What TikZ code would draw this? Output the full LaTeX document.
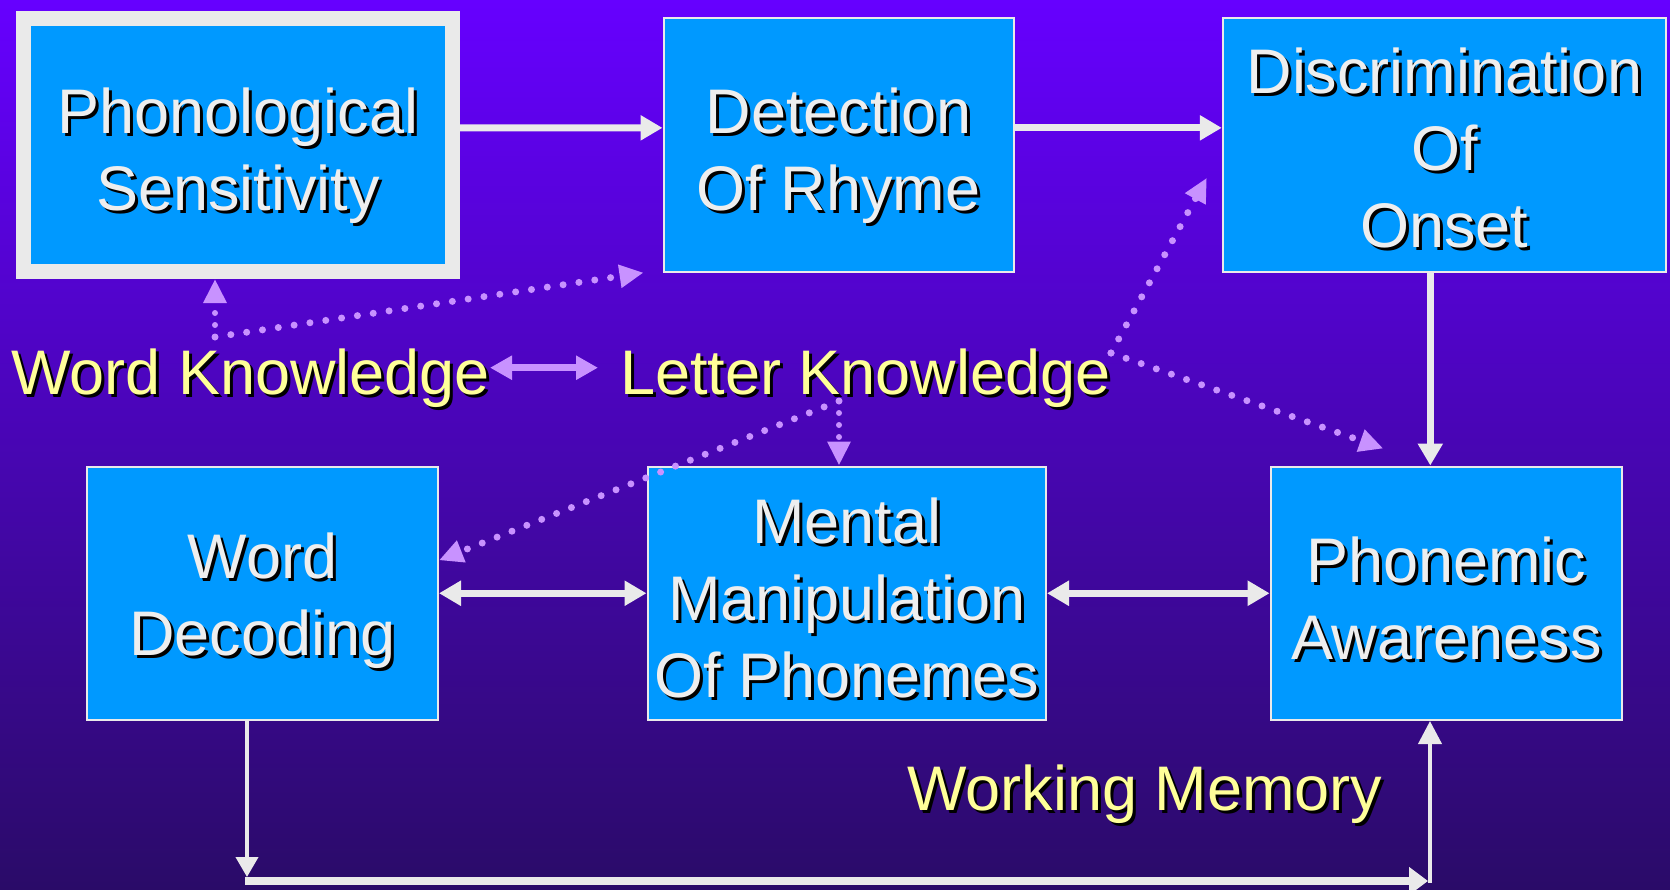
\documentclass[tikz,border=0pt]{standalone}
\usepackage{fontspec}
\setmainfont{Liberation Sans}
\usepackage{xcolor}
\usetikzlibrary{arrows.meta}
\definecolor{bg-top}{RGB}{102,0,255}
\definecolor{bg-mid}{RGB}{76,4,200}
\definecolor{bg-bottom}{RGB}{42,11,104}
\definecolor{box-blue}{RGB}{0,153,255}
\definecolor{frame-gray}{RGB}{234,234,234}
\definecolor{label-white}{RGB}{238,238,238}
\definecolor{label-yellow}{RGB}{255,255,153}
\definecolor{link-lilac}{RGB}{200,146,255}
\newcommand{\sh}[1]{\leavevmode\rlap{\kern3pt\raisebox{-3pt}[0pt][0pt]{\color{black}#1}}#1}
\tikzset{
    concept-box/.style = {draw=frame-gray, fill=box-blue, line width=2pt, rectangle, inner sep=0pt},
    concept-frame/.style = {concept-box, line width=15pt},
    concept-text/.style = {inner sep=0pt, align=center, text=label-white, font=\fontsize{63pt}{77pt}\selectfont},
    knowledge-label/.style = {text=label-yellow, font=\fontsize{63pt}{77pt}\selectfont, inner sep=0pt, anchor=base west},
    flow-arrow/.style = {draw=frame-gray, line width=7pt, -{Triangle[length=22pt,width=24pt]}},
    flow-both/.style = {draw=frame-gray, line width=7pt, {Triangle[length=22pt,width=24pt]}-{Triangle[length=22pt,width=24pt]}},
    lilac-both/.style = {draw=link-lilac, line width=7pt, {Triangle[length=22pt,width=23pt]}-{Triangle[length=22pt,width=23pt]}},
    dotted-link/.style = {draw=link-lilac, line width=7pt, line cap=round, dash pattern=on 0pt off 16pt, -{Triangle[length=24pt,width=22pt]}},
}

\begin{document}
\begin{tikzpicture}[x=1pt, y=-1pt]
\useasboundingbox (0,0) rectangle (1670,889);
\fill[top color=bg-top, middle color=bg-mid, bottom color=bg-bottom] (0,0) rectangle (1670,889);

% top row
\node[concept-frame, minimum width=429pt, minimum height=253.5pt] (phon) at (238,144.75) {};
\node[concept-box, minimum width=350.5pt, minimum height=253.7pt] (detect) at (838.75,144.85) {};
\node[concept-box, minimum width=443pt, minimum height=253.7pt] (disc) at (1444.3,144.85) {};
\node[concept-text] (phon-text) at ([yshift=-10.5pt]phon.center) {\sh{Phonological}\\\sh{Sensitivity}};
\node[concept-text] (detect-text) at ([yshift=-10.5pt]detect.center) {\sh{Detection}\\\sh{Of Rhyme}};
\node[concept-text] (disc-text) at ([yshift=-3pt]disc.center) {\sh{Discrimination}\\\sh{Of}\\\sh{Onset}};

% bottom row
\node[concept-box, minimum width=351pt, minimum height=253.5pt] (decoding) at (262.5,593.25) {};
\node[concept-box, minimum width=398.5pt, minimum height=253.5pt] (mental) at (846.75,593.25) {};
\node[concept-box, minimum width=351.4pt, minimum height=253.5pt] (phonemic) at (1446.3,593.25) {};
\node[concept-text] (decoding-text) at ([yshift=-7pt]decoding.center) {\sh{Word}\\\sh{Decoding}};
\node[concept-text] (mental-text) at ([yshift=-5pt]mental.center) {\sh{Mental}\\\sh{Manipulation}\\\sh{Of Phonemes}};
\node[concept-text] (phonemic-text) at ([yshift=-5pt]phonemic.center) {\sh{Phonemic}\\\sh{Awareness}};

% knowledge labels
\node[knowledge-label] (wordk) at (11,394) {\sh{Word Knowledge}};
\node[knowledge-label] (letterk) at (620,394) {\sh{Letter Knowledge}};
\node[knowledge-label] (workmem) at (907,810) {\sh{Working Memory}};

% solid connectors
\draw[flow-arrow] ([yshift=17pt]phon.east) -- ([yshift=17pt]detect.west);
\draw[flow-arrow] ([yshift=17pt]detect.east) -- ([yshift=17pt]disc.west);
\coordinate (disc-out) at ([xshift=-14pt]disc.south);
\draw[flow-arrow] (disc-out) -- (disc-out |- phonemic.north);
\draw[flow-both] (decoding.east) -- (mental.west);
\draw[flow-both] (mental.east) -- (phonemic.west);

% working memory loop
\coordinate (wd-out) at ([xshift=-15.5pt]decoding.south);
\coordinate (wm-drop) at (247,877);
\coordinate (wm-turn) at (245,881);
\coordinate (wm-end) at (1428,881);
\coordinate (wm-rise) at (1430,883);
\draw[draw=frame-gray, line width=4pt, -{Triangle[length=20pt,width=22pt]}] (wd-out) -- (wm-drop);
\draw[draw=frame-gray, line width=8pt, -{Triangle[length=19pt,width=27pt]}] (wm-turn) -- (wm-end);
\draw[draw=frame-gray, line width=4pt, -{Triangle[length=23pt,width=23pt]}] (wm-rise) -- (wm-rise |- phonemic.south);

% knowledge links
\draw[lilac-both] ([yshift=10pt]wordk.east) -- ([shift={(-22pt,10pt)}]letterk.west);
\coordinate (wk-hub) at (215,337);
\coordinate (lk-hub-low) at (839,401);
\coordinate (lk-hub-high) at (1111,353);
\draw[dotted-link, line width=6pt, dash pattern=on 0pt off 12pt] (wk-hub) -- (wk-hub |- phon.south);
\draw[dotted-link] (wk-hub) -- ([xshift=-19pt]detect.south west);
\draw[dotted-link, line width=6pt, dash pattern=on 0pt off 12pt] (lk-hub-low) -- (lk-hub-low |- mental.north);
\draw[dotted-link] (lk-hub-low) -- ([yshift=33pt]decoding.east);
\draw[dotted-link] (lk-hub-high) -- ([shift={(-15pt,-33pt)}]disc.west);
\draw[dotted-link] (lk-hub-high) -- ([shift={(-63pt,17pt)}]phonemic.north);
\end{tikzpicture}
\end{document}
